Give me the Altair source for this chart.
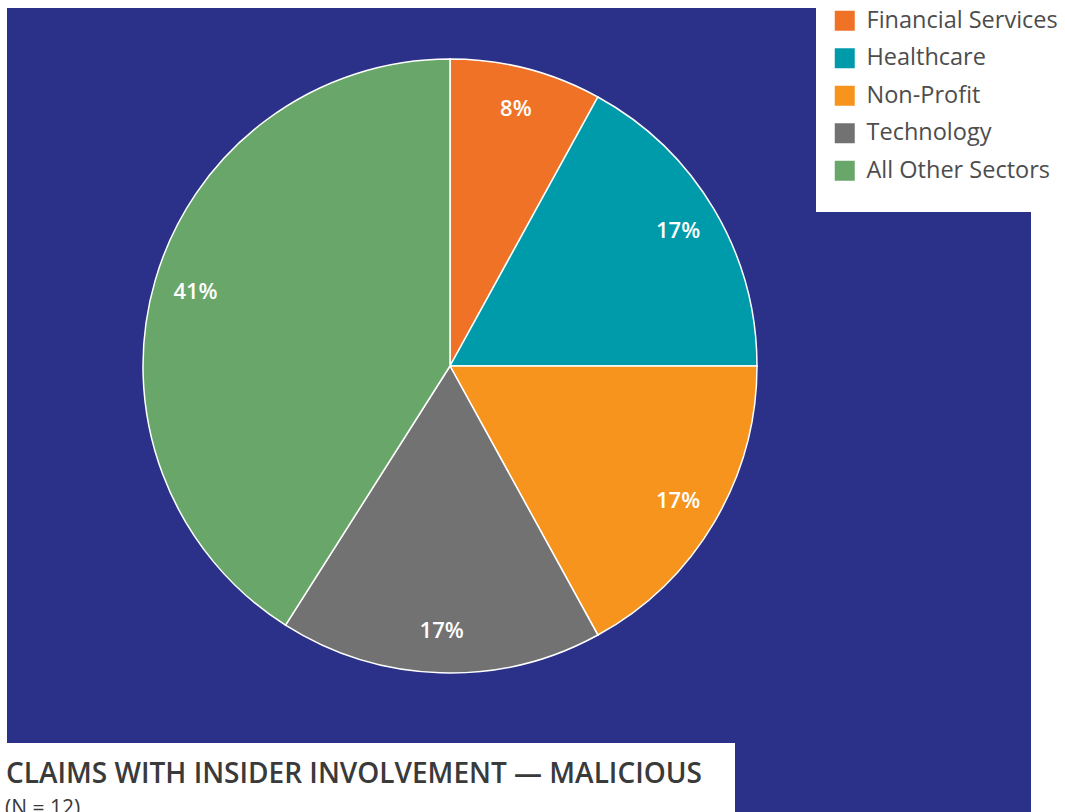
import altair as alt
import pandas as pd

sectors = ["Financial Services", "Healthcare", "Non-Profit", "Technology", "All Other Sectors"]
shares = [8, 17, 17, 17, 41]
labels = ["8%", "17%", "17%", "17%", "41%"]
colors = ["#F07226", "#009BAA", "#F7941D", "#717271", "#68A669"]
order = [0, 1, 2, 3, 4]

title_text = "CLAIMS WITH INSIDER INVOLVEMENT — MALICIOUS"
subtitle_text = "(N = 12)"

df = pd.DataFrame({"sector": sectors, "share": shares, "label": labels, "order": order})

W, H = 1065, 812
CX, CY = 450, 366

bg = alt.Chart(pd.DataFrame({"a": [0]})).mark_rect(color="#2B3189").encode(
    x=alt.value(7), x2=alt.value(1031), y=alt.value(8), y2=alt.value(812)
)
legend_box = alt.Chart(pd.DataFrame({"a": [0]})).mark_rect(color="white").encode(
    x=alt.value(816), x2=alt.value(1065), y=alt.value(0), y2=alt.value(212)
)
title_box = alt.Chart(pd.DataFrame({"a": [0]})).mark_rect(color="white").encode(
    x=alt.value(0), x2=alt.value(735), y=alt.value(743), y2=alt.value(812)
)

color_scale = alt.Scale(domain=sectors, range=colors)

base = alt.Chart(df).encode(
    theta=alt.Theta("share:Q", stack=True),
    order=alt.Order("order:Q"),
)

pie = base.mark_arc(outerRadius=307, stroke="white", strokeWidth=1.5).encode(
    color=alt.Color(
        "sector:N",
        scale=color_scale,
        sort=sectors,
        legend=alt.Legend(
            title=None,
            orient="none",
            legendX=833,
            legendY=9,
            symbolType="square",
            symbolSize=400,
            symbolStrokeWidth=0,
            labelFontSize=23.5,
            labelFont="Open Sans",
            labelColor="#4D4D4D",
            labelOffset=10,
            rowPadding=12.5,
            labelLimit=300,
        ),
    ),
    x=alt.value(CX),
    y=alt.value(CY),
)

text = base.mark_text(
    radius=265, fontSize=22, fontWeight=600, font="Open Sans", color="white"
).encode(text="label:N", x=alt.value(CX), y=alt.value(CY))

title = alt.Chart(pd.DataFrame({"t": [title_text]})).mark_text(
    align="left", baseline="alphabetic", fontSize=28, fontWeight=600, font="Open Sans", color="#3A3A3A"
).encode(text="t:N", x=alt.value(6), y=alt.value(783))

subtitle = alt.Chart(pd.DataFrame({"t": [subtitle_text]})).mark_text(
    align="left", baseline="alphabetic", fontSize=21, font="Open Sans", color="#3A3A3A"
).encode(text="t:N", x=alt.value(5), y=alt.value(815))

chart = alt.layer(bg, legend_box, title_box, pie, text, title, subtitle).properties(
    width=W, height=H, padding=0, autosize=alt.AutoSizeParams(type="none"), background="white"
).configure_view(stroke=None)

chart.save("out.html", embed_options={"renderer": "svg", "actions": False})
